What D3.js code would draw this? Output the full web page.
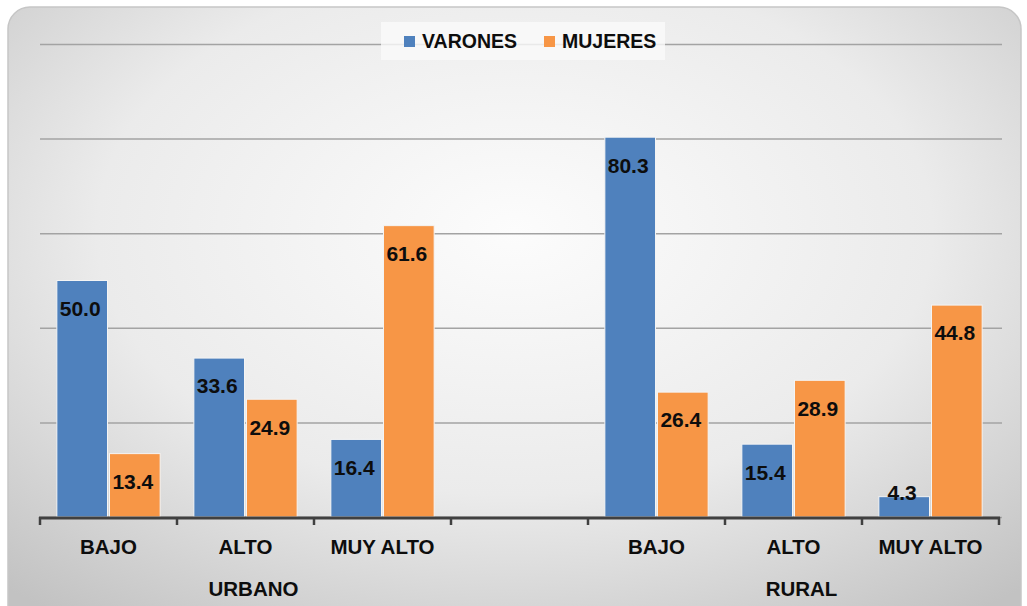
<!DOCTYPE html>
<html lang="es">
<head>
<meta charset="UTF-8">
<title>Varones y mujeres</title>
<script src="https://cdn.jsdelivr.net/npm/d3@7/dist/d3.min.js"></script>
<style>
  body { margin: 0; background: #fff; }
  text { font-family: "Liberation Sans", Arial, sans-serif; font-weight: bold; }
</style>
</head>
<body>
<script>
// datos
var groups = ["URBANO", "RURAL"];
var levels = ["BAJO", "ALTO", "MUY ALTO"];
var series = ["VARONES", "MUJERES"];
var varones = [50.0, 33.6, 16.4, 80.3, 15.4, 4.3];
var mujeres = [13.4, 24.9, 61.6, 26.4, 28.9, 44.8];
var yTicks = [0, 20, 40, 60, 80, 100];
var colors = ["#4f81bd", "#f79646"];

var width = 1027, height = 606;
var plotLeft = 40, plotRight = 999, plotTop = 44, base = 517;

// slots: 3 niveles por grupo, con un hueco vacío entre grupos
var slots = [];
var rows = [];
groups.forEach(function(g, gi) {
  if (gi > 0) slots.push("gap" + gi);
  levels.forEach(function(l, li) {
    var key = g + "|" + l;
    slots.push(key);
    var i = gi * levels.length + li;
    rows.push({ key: key, group: g, level: l, values: [varones[i], mujeres[i]] });
  });
});

var svg = d3.select("body").append("svg").attr("width", width).attr("height", height);

var defs = svg.append("defs");
var grad = defs.append("radialGradient").attr("id", "bg")
  .attr("cx", "50%").attr("cy", "35%").attr("r", "75%");
grad.append("stop").attr("offset", "0%").attr("stop-color", "#fcfcfc");
grad.append("stop").attr("offset", "55%").attr("stop-color", "#ebebeb");
grad.append("stop").attr("offset", "100%").attr("stop-color", "#c2c2c2");

svg.append("rect")
  .attr("x", 8).attr("y", 7).attr("width", 1013).attr("height", 640)
  .attr("rx", 22).attr("ry", 22)
  .attr("fill", "url(#bg)")
  .attr("stroke", "#c6c6c6").attr("stroke-width", 1.5);

var x = d3.scaleBand().domain(slots).range([plotLeft, plotRight]).padding(0);
var xs = d3.scaleBand().domain(series).range([0, x.bandwidth()])
  .paddingInner(0.038).paddingOuter(0.32);
var y = d3.scaleLinear().domain([0, 100]).range([base, plotTop]);

// líneas de cuadrícula
svg.append("g")
  .attr("transform", "translate(" + plotLeft + ",0)")
  .call(d3.axisLeft(y).tickValues(yTicks).tickSize(-(plotRight + 3 - plotLeft)).tickFormat(""))
  .call(function(g) { g.select(".domain").remove(); })
  .selectAll("line").attr("stroke", "#a3a3a3").attr("stroke-width", 1.5);

// leyenda
var legend = svg.append("g");
legend.append("rect").attr("x", 381).attr("y", 22).attr("width", 284).attr("height", 38)
  .attr("fill", "#fafafa").attr("opacity", 0.8);
var legX = [404, 544];
series.forEach(function(s, i) {
  legend.append("rect").attr("x", legX[i]).attr("y", 36).attr("width", 11).attr("height", 11)
    .attr("fill", colors[i]);
  legend.append("text").attr("x", legX[i] + 18).attr("y", 48)
    .attr("font-size", 19.5).attr("fill", "#0d0d0d").text(s);
});

// barras
var cat = svg.selectAll(".cat").data(rows).enter().append("g")
  .attr("class", "cat")
  .attr("transform", function(d) { return "translate(" + x(d.key) + ",0)"; });

var bars = cat.selectAll(".bar")
  .data(function(d) { return d.values.map(function(v, i) { return { s: series[i], v: v, i: i }; }); })
  .enter();

bars.append("rect")
  .attr("x", function(d) { return xs(d.s); })
  .attr("y", function(d) { return y(d.v); })
  .attr("width", xs.bandwidth())
  .attr("height", function(d) { return base - y(d.v); })
  .attr("fill", function(d) { return colors[d.i]; })
  .attr("stroke", "#f4f4f4").attr("stroke-width", 1);

bars.append("text")
  .attr("x", function(d) { return xs(d.s) + xs.bandwidth() / 2 - 2; })
  .attr("y", function(d) { return Math.min(y(d.v) + 28, base - 24); })
  .attr("dy", "0.35em")
  .attr("text-anchor", "middle")
  .attr("font-size", 21)
  .attr("fill", "#0d0d0d")
  .text(function(d) { return d3.format(".1f")(d.v); });

// eje x
svg.append("line").attr("x1", plotLeft - 1).attr("x2", plotRight + 1)
  .attr("y1", base + 1).attr("y2", base + 1)
  .attr("stroke", "#404040").attr("stroke-width", 3);

var bounds = slots.map(function(s) { return x(s); }).concat([plotRight]);
svg.selectAll(".tick-mark").data(bounds).enter().append("line")
  .attr("class", "tick-mark")
  .attr("x1", function(d) { return d; }).attr("x2", function(d) { return d; })
  .attr("y1", base).attr("y2", base + 8)
  .attr("stroke", "#404040").attr("stroke-width", 2.5);

var xAxis = svg.append("g")
  .attr("transform", "translate(0," + base + ")")
  .call(d3.axisBottom(x).tickSize(0).tickPadding(22)
    .tickFormat(function(d) { return d.indexOf("|") > 0 ? d.split("|")[1] : ""; }));
xAxis.select(".domain").remove();
xAxis.selectAll("text")
  .attr("font-size", 20.5).attr("fill", "#0d0d0d")
  .attr("font-family", "Liberation Sans, Arial, sans-serif").attr("font-weight", "bold");

// etiquetas de grupo
svg.selectAll(".grp").data(groups).enter().append("text")
  .attr("class", "grp")
  .attr("x", function(g) {
    var first = x(g + "|" + levels[0]);
    var last = x(g + "|" + levels[levels.length - 1]) + x.bandwidth();
    return (first + last) / 2 + 8;
  })
  .attr("y", 596)
  .attr("text-anchor", "middle")
  .attr("font-size", 20.5).attr("fill", "#0d0d0d")
  .text(function(g) { return g; });
</script>
</body>
</html>
